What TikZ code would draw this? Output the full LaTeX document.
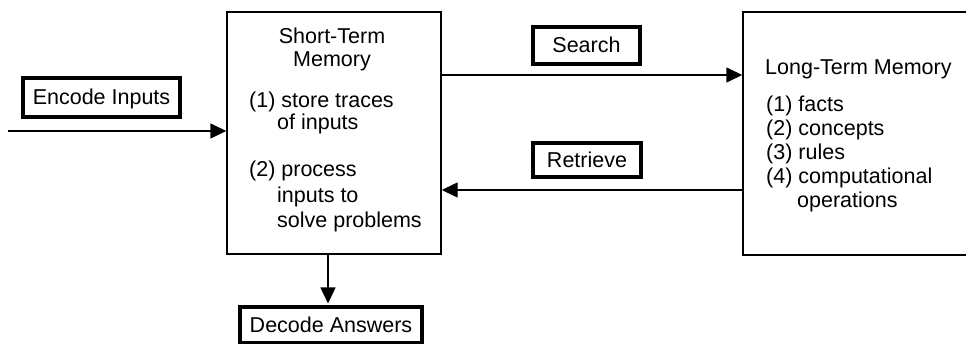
\documentclass[tikz,border=0pt]{standalone}
\usepackage{fontspec}
\setmainfont{Liberation Sans}
\usetikzlibrary{arrows.meta}
\begin{document}
\begin{tikzpicture}[x=1pt,y=-1pt,
  every node/.style={font=\fontsize{21.5}{25}\selectfont},
  membox/.style={draw,line width=1.4pt,inner sep=0pt},
  tagbox/.style={draw,line width=3.5pt,inner sep=0pt,text height=15pt,text depth=0pt},
  txt/.style={anchor=base west,inner sep=0pt},
  ctxt/.style={anchor=base,inner sep=0pt},
  arr/.style={line width=1.4pt,-{Triangle[length=16pt,width=15pt]}}]
  \useasboundingbox (0,0) rectangle (966,344);

  % memory stores
  \node[membox,minimum width=214pt,minimum height=242pt] (stm) at (334,133) {};
  \node[membox,minimum width=240pt,minimum height=243pt] (ltm) at (863,133.5) {};

  % short-term memory text
  \node[ctxt] (s1) at (332,44) {Short-Term};
  \node[ctxt] (s2) at (332,67) {Memory};
  \node[txt] (s3) at (249,108) {(1) store traces};
  \node[txt] (s4) at (277,130) {of inputs};
  \node[txt] (s5) at (249,177) {(2) process};
  \node[txt] (s6) at (277,203) {inputs to};
  \node[txt] (s7) at (277,228) {solve problems};

  % long-term memory text
  \node[txt] (l0) at (765,75) {Long-Term Memory};
  \node[txt] (l1) at (766,112) {(1) facts};
  \node[txt] (l2) at (766,136) {(2) concepts};
  \node[txt] (l3) at (766,160) {(3) rules};
  \node[txt] (l4) at (766,184) {(4) computational};
  \node[txt] (l5) at (797,208) {operations};

  % process tags
  \node[tagbox,minimum width=157pt,minimum height=39pt] (enc) at (101.5,97.5) {Encode Inputs};
  \node[tagbox,minimum width=107pt,minimum height=37pt] (srch) at (586.5,45.5) {Search};
  \node[tagbox,minimum width=108pt,minimum height=34pt] (retr) at (587,160) {Retrieve};
  \node[tagbox,minimum width=182pt,minimum height=36pt] (dec) at (331,325) {Decode Answers};

  % connectors
  \coordinate (in) at (8,131);
  \coordinate (sy) at (0,75);
  \coordinate (ry) at (0,190);
  \coordinate (dx) at (328,0);
  \draw[arr] (in) -- (in -| stm.west);
  \draw[arr] (stm.east |- sy) -- (ltm.west |- sy);
  \draw[arr] (ltm.west |- ry) -- (stm.east |- ry);
  \draw[arr,shorten >=1.75pt] (dx |- stm.south) -- (dx |- dec.north);
\end{tikzpicture}
\end{document}
